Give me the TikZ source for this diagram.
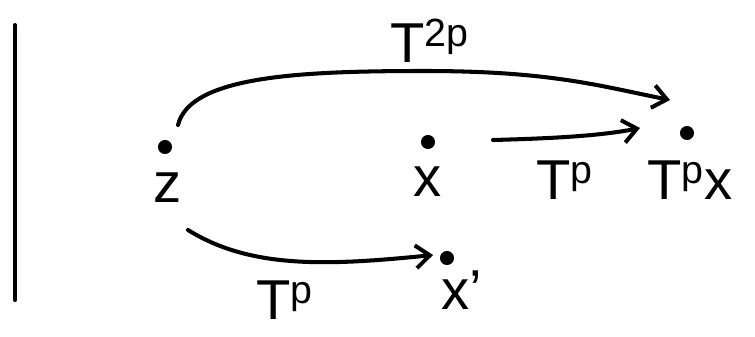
\documentclass[tikz,border=0pt]{standalone}
\usepackage{fontspec}
\setmainfont{Liberation Sans}
\usetikzlibrary{arrows.meta}
\tikzset{
  pt/.style={circle, fill=black, inner sep=0pt, minimum size=8pt},
  lbl/.style={font=\fontsize{32}{36}\selectfont, inner sep=0pt},
  arr/.style={line width=2.3pt, line cap=round, -{Straight Barb[length=8pt, width=13pt, line width=2.3pt]}}
}
\begin{document}
\begin{tikzpicture}
    \useasboundingbox (0,0) rectangle (15.1,6.72);
    \draw[line width=2.3pt, line cap=round] (0.3,6.22) -- (0.3,0.72);
    % points
    \node[pt] (z) at (3.3,3.78) {};
    \node[pt] (x) at (8.56,3.88) {};
    \node[pt] (Tpx) at (13.74,4.06) {};
    \node[pt] (xp) at (8.94,1.56) {};
    \node[lbl] (zlab) at (3.36,2.96) {z};
    \node[lbl] (xlab) at (8.56,3.08) {x};
    \node[lbl] (Tpxlab) at (13.8,3.12) {T\textsuperscript{p}x};
    \node[lbl] (xplab) at (9.24,0.92) {x'};
    % arrow ends
    \coordinate (zt) at (3.56,4.22);
    \coordinate (zb) at (3.76,2.12);
    \coordinate (xr) at (9.86,3.92);
    \draw[arr] (zt) .. controls (3.8,5.2) and (6,5.3) .. (8.5,5.3) .. controls (11,5.3) and (12,5.0) .. ([shift={(-0.34,0.66)}]Tpx.center);
    \draw[arr] (xr) .. controls (11,3.95) and (12,4.0) .. ([shift={(-0.94,0.1)}]Tpx.center);
    \draw[arr] (zb) .. controls (5,1.35) and (6.5,1.4) .. ([shift={(-0.28,0.06)}]xp.center);
    % maps
    \node[lbl] (T2p) at (8.6,5.9) {T\textsuperscript{2p}};
    \node[lbl] (Tp1) at (11.3,3.12) {T\textsuperscript{p}};
    \node[lbl] (Tp2) at (5.7,0.72) {T\textsuperscript{p}};
\end{tikzpicture}
\end{document}
